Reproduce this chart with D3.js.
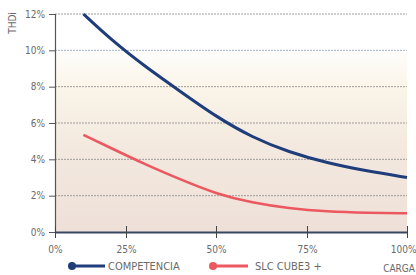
<!DOCTYPE html>
<html><head><meta charset="utf-8">
<script src="https://cdn.jsdelivr.net/npm/d3@7"></script>
<style>
html,body{margin:0;padding:0;background:#fff;}
svg{display:block;}
text{font-family:"Liberation Sans Narrow","DejaVu Sans Condensed","Roboto",sans-serif;fill:#6a6a6a;}
</style></head>
<body><svg id="c" width="416" height="275"></svg>
<script>
const loads = [10,20,30,40,50,60,70,80,90,100];
const competencia = [12.0,10.55,9.15,7.75,6.35,5.2,4.4,3.8,3.35,3.0];
const slcCube3 = [5.35,4.6,3.75,2.9,2.1,1.6,1.3,1.12,1.05,1.03];
const xTicks = [0,25,50,75,100];
const xTickLabels = ["0%","25%","50%","75%","100%"];
const yTicks = [0,2,4,6,8,10,12];
const seriesNames = ["COMPETENCIA","SLC CUBE3 +"];

(function(){
const svg = d3.select("#c");
const pL = 55, pR = 407, pT = 14, pB = 232;
const x = d3.scaleLinear().domain(xTicks).range([55,126,216,307,407]);
const y = d3.scaleLinear().domain([0,12]).range([pB, pT]);

const defs = svg.append("defs");
const g = defs.append("linearGradient").attr("id","bg").attr("x1",0).attr("y1",0).attr("x2",0).attr("y2",1);
g.append("stop").attr("offset","0").attr("stop-color","#ffffff");
g.append("stop").attr("offset","0.15").attr("stop-color","#ffffff");
g.append("stop").attr("offset","0.32").attr("stop-color","#fbf5ea");
g.append("stop").attr("offset","0.6").attr("stop-color","#f3e9df");
g.append("stop").attr("offset","1").attr("stop-color","#eee0d8");
svg.append("rect").attr("x",pL).attr("y",pT).attr("width",pR-pL).attr("height",pB-pT).attr("fill","url(#bg)");

svg.append("g").selectAll("line").data(yTicks.filter(d=>d>0)).join("line")
  .attr("x1",pL).attr("x2",pR).attr("y1",d=>y(d)).attr("y2",d=>y(d))
  .attr("stroke",d=>d===10?"#8aa3b8":"#8a8a8a").attr("stroke-width",1)
  .attr("stroke-dasharray","2,1").attr("opacity",0.8);

const yAxis = d3.axisLeft(y).tickValues(yTicks).tickFormat(d=>d+"%").tickSize(6).tickPadding(4);
const ya = svg.append("g").attr("transform",`translate(${pL},0)`).call(yAxis);
ya.select(".domain").attr("stroke","#555").attr("stroke-width",1.2);
ya.selectAll(".tick line").attr("stroke","#555");
ya.selectAll("text").style("font-size","10px").attr("fill","#6a6a6a");

const xAxis = d3.axisBottom(x).tickValues(xTicks).tickFormat((d,i)=>xTickLabels[i]).tickSizeInner(6).tickSizeOuter(0).tickPadding(8);
const xa = svg.append("g").attr("transform",`translate(0,${pB})`).call(xAxis);
xa.select(".domain").attr("stroke","#3a4660").attr("stroke-width",1.8);
xa.selectAll(".tick line").attr("stroke","#444").attr("y1",-6).attr("y2",6);
xa.selectAll("text").style("font-size","10px").attr("fill","#6a6a6a");
xa.selectAll(".tick").filter(d=>d===100).select("text").attr("text-anchor","end").attr("x",9);

svg.append("text").attr("transform","translate(16,23) rotate(-90)").attr("text-anchor","middle")
  .style("font-size","10px").text("THDi");
svg.append("text").attr("x",415).attr("y",272).attr("text-anchor","end").style("font-size","10px").text("CARGA");

const line = d3.line().x((d,i)=>x(loads[i])).y(d=>y(d)).curve(d3.curveBasis);
svg.append("path").datum(competencia).attr("d",line).attr("fill","none").attr("stroke","#1e3d7a").attr("stroke-width",3);
svg.append("path").datum(slcCube3).attr("d",line).attr("fill","none").attr("stroke","#ec5860").attr("stroke-width",2.6);

const leg = [{name:seriesNames[0],color:"#1e3d7a",x:72,len:33,tx:36},{name:seriesNames[1],color:"#ec5860",x:213,len:35,tx:42}];
const lg = svg.append("g").selectAll("g").data(leg).join("g").attr("transform",d=>`translate(${d.x},266)`);
lg.append("line").attr("x1",0).attr("x2",d=>d.len).attr("stroke",d=>d.color).attr("stroke-width",3);
lg.append("circle").attr("r",4).attr("fill",d=>d.color);
lg.append("text").attr("x",d=>d.tx).attr("y",4).style("font-size","11px").text(d=>d.name);
})();
</script></body></html>
